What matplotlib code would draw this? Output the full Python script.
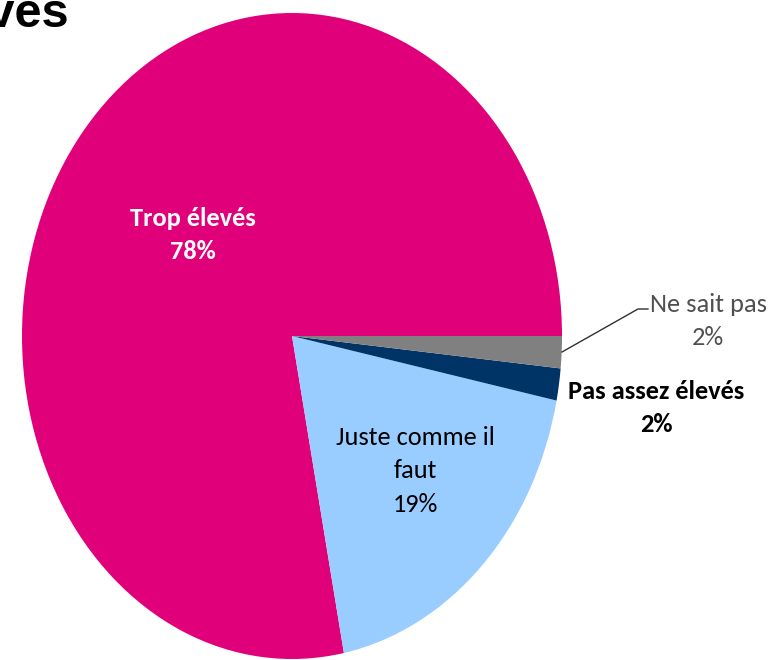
import matplotlib
matplotlib.use("Agg")
import matplotlib.pyplot as plt
from matplotlib.lines import Line2D

# données
categories = ["Trop élevés", "Juste comme il\nfaut", "Pas assez élevés", "Ne sait pas"]
values = [78.0, 18.7, 1.6, 1.6]
pct_labels = ["78%", "19%", "2%", "2%"]
colors = ["#E0007A", "#99CCFF", "#003366", "#808080"]

W, H = 769, 660
CALIBRI = ["Carlito", "DejaVu Sans"]


def fx(px):
    return px / W


def fy(py):
    return 1 - py / H


fig = plt.figure(figsize=(W / 100, H / 100), dpi=100)

# camembert légèrement ovale (plus haut que large)
cx, cy, rx, ry = 292, 336, 270, 323
ax = fig.add_axes([fx(cx - rx), fy(cy + ry), 2 * rx / W, 2 * ry / H])
ax.pie(values, colors=colors, startangle=0, counterclock=True,
       wedgeprops=dict(linewidth=0))
ax.set_aspect("auto")
ax.set_xlim(-1, 1)
ax.set_ylim(-1, 1)
ax.axis("off")

# titre coupé en haut à gauche
fig.text(fx(69), fy(27), "élevés", ha="right", va="baseline",
         fontsize=35, fontweight="bold", family=["Liberation Sans", "DejaVu Sans"])

# étiquettes
lab = dict(ha="center", va="center", fontsize=19, family=CALIBRI, linespacing=1.55)
fig.text(fx(193), fy(235), categories[0] + "\n" + pct_labels[0],
         color="white", fontweight="bold", **lab)
fig.text(fx(415), fy(471), categories[1] + "\n" + pct_labels[1],
         color="black", **lab)
fig.text(fx(656), fy(408), categories[2] + "\n" + pct_labels[2],
         color="black", fontweight="bold", **lab)
fig.text(fx(708), fy(321), categories[3] + "\n" + pct_labels[3],
         color="#505050", **lab)

# trait de rappel pour "Ne sait pas"
fig.add_artist(Line2D([fx(562), fx(638), fx(648)], [fy(352), fy(309), fy(309)],
                      color="#303030", linewidth=1.0))

fig.savefig("out.png", dpi=100)
